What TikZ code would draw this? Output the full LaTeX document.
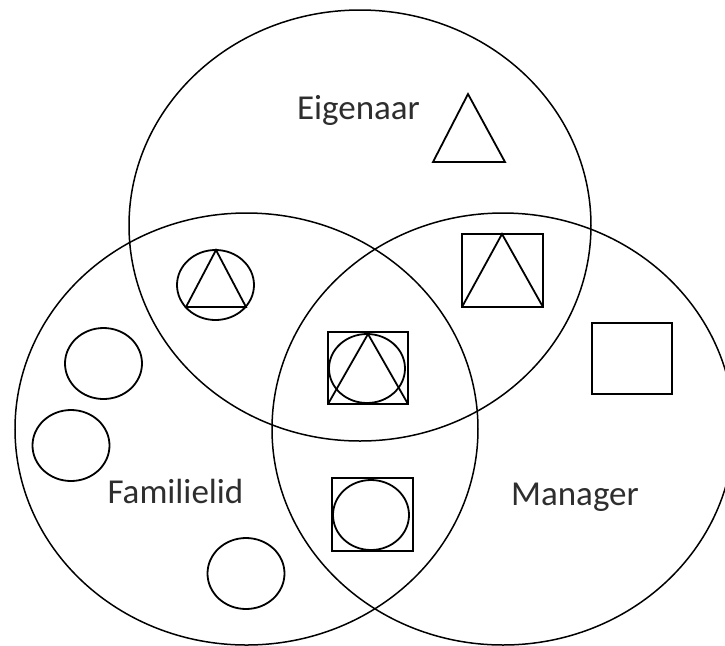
\documentclass[tikz,border=0pt]{standalone}
\usepackage{fontspec}
\setmainfont{Carlito}
\tikzset{venn/.style={draw,line width=.75pt},fig/.style={draw,line width=.9pt,line join=miter},lbl/.style={font=\fontsize{17.5}{21}\selectfont,text=black!82,inner sep=0pt,anchor=base}}

\begin{document}
\begin{tikzpicture}[x=.5pt,y=-.5pt]
\useasboundingbox (0,0) rectangle (725,645);
\clip (0,0) rectangle (725,645);
% the three sets
\draw[venn] (360,225.5) ellipse [x radius=231,y radius=215.5];
\draw[venn] (246.5,429) ellipse [x radius=231.5,y radius=216];
\draw[venn] (503,429) ellipse [x radius=231,y radius=216];
\node[lbl] (eigenaar) at (358.5,119) {Eigenaar};
\node[lbl] (familielid) at (175.5,503) {Familielid};
\node[lbl] (manager) at (575,505) {Manager};
% eigenaar only
\draw[fig] (433,162)--(468,94)--(505,162)--cycle;
% familielid only
\draw[fig] (103.5,363.5) ellipse [x radius=38.5,y radius=35.5];
\draw[fig] (71,445.5) ellipse [x radius=38.5,y radius=35.5];
\draw[fig] (246,573.5) ellipse [x radius=38.5,y radius=35.5];
% manager only
\draw[fig] (592,323) rectangle (672,394);
% eigenaar + familielid
\draw[fig] (215.5,285) ellipse [x radius=38.5,y radius=35];
\draw[fig] (186,307)--(216,250)--(246,307)--cycle;
% eigenaar + manager
\draw[fig] (462,234) rectangle (543,307);
\draw[fig] (462,307)--(502,234)--(543,307);
% familielid + manager
\draw[fig] (332,478) rectangle (413,551);
\draw[fig] (371,515) ellipse [x radius=38,y radius=35];
% all three
\draw[fig] (328,332) rectangle (408,404);
\draw[fig] (367,368.5) ellipse [x radius=38,y radius=34.5];
\draw[fig] (328,404)--(368,334)--(408,404);
\end{tikzpicture}
\end{document}
